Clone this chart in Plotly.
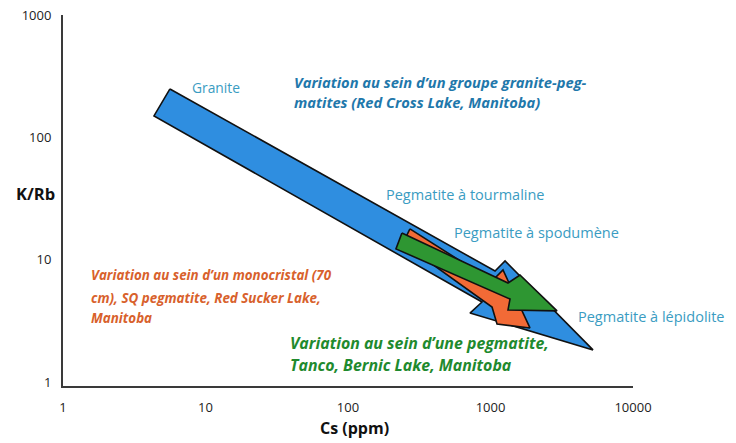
import numpy as np
import plotly.graph_objects as go

# Evolution fields in the Cs vs K/Rb diagram (outline vertices, Cs in ppm, K/Rb ratio)
granite_pegmatite_cs = [5.63, 1076, 1265, 5240, 718, 872, 4.35]
granite_pegmatite_krb = [249, 8.11, 9.80, 1.84, 3.68, 4.53, 150]

monocrystal_cs = [272, 1025, 1224, 1892, 1111, 1025, 243]
monocrystal_krb = [17.9, 6.72, 8.27, 2.78, 2.99, 4.12, 13.7]

tanco_cs = [239, 1327, 1610, 2930, 1327, 1371, 217]
tanco_krb = [16.6, 6.48, 7.53, 3.83, 3.90, 4.79, 12.3]

x_ticks = [1, 10, 100, 1000, 10000]
y_ticks = [1, 10, 100, 1000]

FONT = "Open Sans"
BLUE_FILL = "#2f8ee0"
ORANGE_FILL = "#f26a36"
GREEN_FILL = "#2e9632"
LABEL_TEAL = "#3a9cc2"
TEXT_BLUE = "#1f78ab"
TEXT_ORANGE = "#d8612c"
TEXT_GREEN = "#1f8a2e"

fig = go.Figure()
for xs, ys, col in [
    (granite_pegmatite_cs, granite_pegmatite_krb, BLUE_FILL),
    (monocrystal_cs, monocrystal_krb, ORANGE_FILL),
    (tanco_cs, tanco_krb, GREEN_FILL),
]:
    fig.add_trace(go.Scatter(
        x=xs + xs[:1], y=ys + ys[:1], mode="lines", fill="toself",
        fillcolor=col, line=dict(color="#111111", width=1.6),
        hoverinfo="skip", showlegend=False,
    ))


def note(text, x, y, color, size=14.5, bold=False, italic=False, anchor="left"):
    fig.add_annotation(
        x=np.log10(x), y=np.log10(y), xref="x", yref="y", text=text,
        showarrow=False, xanchor=anchor, yanchor="middle",
        font=dict(family=FONT, size=size, color=color,
                  weight="bold" if bold else "normal",
                  style="italic" if italic else "normal"),
    )


# Field labels
note("Granite", 11.85, 254, LABEL_TEAL, size=13.8, anchor="center")
note("Pegmatite à tourmaline", 179, 33.9, LABEL_TEAL)
note("Pegmatite à spodumène", 537, 16.6, LABEL_TEAL)
note("Pegmatite à lépidolite", 3981, 3.42, LABEL_TEAL)

# Captions for the three trends
for line, y in [("Variation au sein d’un groupe granite-peg-", 284),
                ("matites (Red Cross Lake, Manitoba)", 195)]:
    note(line, 40.5, y, TEXT_BLUE, size=14.7, bold=True, italic=True)
for line, y in [("Variation au sein d’un monocristal (70", 7.53),
                ("cm), SQ pegmatite, Red Sucker Lake,", 4.88),
                ("Manitoba", 3.35)]:
    note(line, 1.52, y, TEXT_ORANGE, size=13.4, bold=True, italic=True)
for line, y in [("Variation au sein d’une pegmatite,", 2.10),
                ("Tanco, Bernic Lake, Manitoba", 1.385)]:
    note(line, 37.9, y, TEXT_GREEN, size=15.9, bold=True, italic=True)

# Axis titles
fig.add_annotation(x=-0.048, y=0.520, xref="paper", yref="paper", text="K/Rb",
                   showarrow=False, xanchor="center", yanchor="middle",
                   font=dict(family=FONT, size=16.5, color="#111111", weight="bold"))
fig.add_annotation(x=0.512, y=-0.149, xref="paper", yref="paper", text="Cs (ppm)",
                   showarrow=False, xanchor="center", yanchor="bottom",
                   font=dict(family=FONT, size=16, color="#111111", weight="bold"))

axis_common = dict(showgrid=False, zeroline=False, showline=True, automargin=False,
                   linecolor="#3a3a3a", linewidth=2, ticks="",
                   tickfont=dict(family=FONT, size=13, color="#222222"))
fig.update_xaxes(type="log", range=[0, 4], tickmode="array", tickvals=x_ticks,
                 ticktext=[str(v) for v in x_ticks], ticklabelstandoff=8, **axis_common)
fig.update_yaxes(type="log", range=[-0.03, 3.0], tickmode="array", tickvals=y_ticks,
                 ticktext=[str(v) for v in y_ticks], ticklabelstandoff=7, **axis_common)

fig.update_layout(
    width=736, height=443,
    margin=dict(l=63, r=103, t=15, b=57, autoexpand=False),
    paper_bgcolor="white", plot_bgcolor="white",
)

fig.write_html("out.html")
